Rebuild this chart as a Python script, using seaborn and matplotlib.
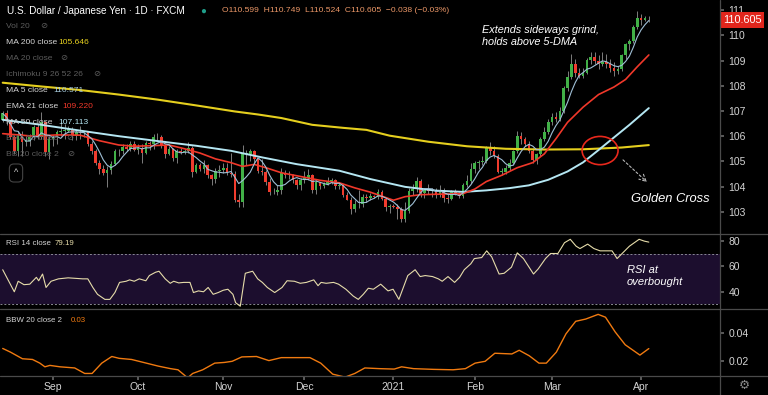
import numpy as np
import pandas as pd
import seaborn as sns
import matplotlib.pyplot as plt
from matplotlib.patches import Ellipse
from matplotlib.lines import Line2D
import matplotlib.transforms as mtrans

# USD/JPY daily candles, 13 Aug 2020 - 5 Apr 2021
opens = [
    106.65, 106.90, 106.60, 105.95, 105.40, 106.10, 105.78, 105.80, 105.95, 106.35, 105.98, 106.58, 105.38,
    105.88, 105.95, 106.15, 106.20, 106.22, 106.28, 106.00, 106.15, 106.12, 106.15, 105.70, 105.40, 104.95, 104.70, 104.55, 104.65, 104.90, 105.40, 105.40, 105.58, 105.50, 105.68,
    105.45, 105.52, 105.32, 105.72, 105.68, 105.95, 105.95, 105.60, 105.30, 105.50, 105.12, 105.40, 105.38, 105.42, 105.52, 104.58, 104.85, 104.70, 104.85, 104.45, 104.30, 104.60,
    104.65, 104.72, 104.52, 104.50, 103.48, 103.38, 105.30, 105.30, 105.42, 105.08, 104.62, 104.58, 104.18, 103.80, 103.78, 103.85, 104.55, 104.45, 104.45, 104.25, 104.08,
    104.28, 104.35, 104.45, 103.85, 104.18, 104.02, 104.12, 104.22, 104.25, 104.02, 104.05, 103.65, 103.48, 103.12, 103.30, 103.30, 103.60, 103.55, 103.62, 103.60, 103.80, 103.52, 103.20,
    103.22, 103.20, 103.12, 102.70, 103.05, 103.82, 103.92, 104.22, 103.75, 103.88, 103.82, 103.88, 103.68, 103.88, 103.55, 103.50, 103.80, 103.75, 103.62, 104.08, 104.22,
    104.68, 104.92, 104.98, 105.02, 105.55, 105.40, 105.22, 104.58, 104.58, 104.75, 104.95, 105.40, 106.00, 105.88, 105.68, 105.42, 105.05, 105.28, 105.90, 106.18,
    106.58, 106.75, 106.70, 107.00, 107.92, 108.35, 108.88, 108.50, 108.38, 108.50, 109.02, 109.12, 108.98, 108.85, 108.95, 108.88, 108.70, 108.58, 108.68, 109.20, 109.65, 109.78, 110.32,
    110.70, 110.62, 110.599,
]
highs = [
    107.00, 107.05, 106.65, 106.05, 106.20, 106.20, 106.00, 106.10, 106.45, 106.50, 106.95, 106.60, 106.00,
    106.05, 106.25, 106.55, 106.50, 106.40, 106.38, 106.25, 106.40, 106.20, 106.20, 105.80, 105.50, 105.05, 104.85, 104.80, 105.00, 105.50, 105.50, 105.70, 105.70, 105.80, 105.80,
    105.70, 105.70, 105.80, 105.80, 106.10, 106.12, 106.05, 105.70, 105.60, 105.55, 105.50, 105.55, 105.50, 105.75, 105.60, 104.95, 104.95, 105.05, 104.90, 104.50, 104.75, 104.85,
    104.95, 104.95, 105.35, 104.60, 103.70, 105.65, 105.45, 105.50, 105.45, 105.15, 105.10, 104.65, 104.35, 103.95, 104.05, 104.75, 104.65, 104.60, 104.50, 104.30, 104.35,
    104.60, 104.70, 104.50, 104.25, 104.20, 104.20, 104.40, 104.35, 104.30, 104.20, 104.10, 103.80, 103.60, 103.45, 103.85, 103.70, 103.70, 103.75, 103.65, 103.90, 103.85, 103.60, 103.30,
    103.30, 103.30, 103.20, 103.40, 103.95, 104.10, 104.40, 104.30, 103.95, 104.10, 103.95, 103.95, 104.05, 103.95, 103.70, 103.85, 103.90, 103.80, 104.15, 104.45, 104.95,
    105.00, 105.05, 105.20, 105.60, 105.75, 105.60, 105.30, 104.75, 104.85, 105.10, 105.45, 106.20, 106.15, 105.95, 105.80, 105.55, 105.35, 105.95, 106.35, 106.70,
    106.90, 106.95, 107.15, 108.00, 108.60, 109.25, 109.05, 108.70, 108.70, 109.10, 109.35, 109.35, 109.20, 109.35, 109.25, 109.05, 108.95, 108.80, 109.25, 109.70, 109.85, 110.40, 110.95,
    110.85, 110.75, 110.749,
]
lows = [
    106.55, 106.45, 105.90, 105.30, 105.20, 105.20, 105.60, 105.60, 105.85, 105.90, 105.90, 105.20, 105.10,
    105.60, 105.70, 106.00, 105.90, 106.15, 105.85, 105.85, 105.90, 105.95, 105.60, 105.30, 104.85, 104.50, 104.45, 104.00, 104.50, 104.85, 105.20, 105.30, 105.40, 105.40, 105.40,
    105.30, 104.95, 105.30, 105.45, 105.50, 105.85, 105.55, 105.15, 105.25, 105.00, 104.95, 105.30, 105.30, 105.35, 104.40, 104.55, 104.60, 104.55, 104.35, 104.05, 104.15, 104.40,
    104.55, 104.45, 104.40, 103.40, 103.20, 103.20, 104.85, 105.00, 104.90, 104.55, 104.45, 104.05, 103.65, 103.70, 103.65, 103.70, 104.35, 104.30, 104.15, 103.90, 103.85,
    104.15, 104.25, 103.75, 103.70, 103.90, 103.95, 104.05, 104.10, 103.90, 103.90, 103.60, 103.45, 102.90, 103.00, 103.15, 103.20, 103.40, 103.45, 103.55, 103.50, 103.45, 103.05, 102.95,
    103.15, 102.70, 102.60, 102.60, 102.95, 103.65, 103.80, 103.60, 103.55, 103.70, 103.60, 103.55, 103.60, 103.40, 103.35, 103.45, 103.65, 103.55, 103.55, 104.00, 104.15,
    104.55, 104.70, 104.85, 104.95, 105.25, 105.15, 104.55, 104.45, 104.50, 104.65, 104.90, 105.35, 105.70, 105.60, 105.35, 104.95, 104.90, 105.20, 105.80, 106.10,
    106.45, 106.55, 106.60, 106.90, 107.80, 108.25, 108.35, 108.30, 108.30, 108.45, 108.85, 108.85, 108.65, 108.80, 108.70, 108.55, 108.40, 108.45, 108.60, 109.05, 109.40, 109.70, 110.25,
    110.40, 110.55, 110.524,
]
closes = [
    106.90, 106.60, 105.95, 105.40, 106.10, 105.78, 105.80, 105.95, 106.35, 105.98, 106.58, 105.38, 105.88,
    105.95, 106.15, 106.20, 106.22, 106.28, 106.00, 106.15, 106.12, 106.15, 105.70, 105.40, 104.95, 104.70, 104.55, 104.65, 104.90, 105.40, 105.40, 105.58, 105.50, 105.68, 105.45,
    105.52, 105.32, 105.72, 105.68, 105.95, 105.95, 105.60, 105.30, 105.50, 105.12, 105.40, 105.38, 105.42, 105.52, 104.58, 104.85, 104.70, 104.85, 104.45, 104.30, 104.60, 104.65,
    104.72, 104.52, 104.50, 103.48, 103.38, 105.30, 105.30, 105.42, 105.08, 104.62, 104.58, 104.18, 103.80, 103.78, 103.85, 104.55, 104.45, 104.45, 104.25, 104.08, 104.28,
    104.35, 104.45, 103.85, 104.18, 104.02, 104.12, 104.22, 104.25, 104.02, 104.05, 103.65, 103.48, 103.12, 103.30, 103.30, 103.60, 103.55, 103.62, 103.60, 103.80, 103.52, 103.20, 103.22,
    103.20, 103.12, 102.70, 103.05, 103.82, 103.92, 104.22, 103.75, 103.88, 103.82, 103.88, 103.68, 103.88, 103.55, 103.50, 103.80, 103.75, 103.62, 104.08, 104.22, 104.68,
    104.92, 104.98, 105.02, 105.55, 105.40, 105.22, 104.58, 104.58, 104.75, 104.95, 105.40, 106.00, 105.88, 105.68, 105.42, 105.05, 105.28, 105.90, 106.18, 106.58,
    106.75, 106.70, 107.00, 107.92, 108.35, 108.88, 108.50, 108.38, 108.50, 109.02, 109.12, 108.98, 108.85, 108.95, 108.88, 108.70, 108.58, 108.68, 109.20, 109.65, 109.78, 110.32, 110.70,
    110.62, 110.68, 110.605,
]

# moving averages (bar index, value)
ma200_idx = [0, 10, 20, 30, 40, 50, 60, 66, 72, 80, 88, 94, 100, 110, 120, 130, 140, 150, 160, 167]
ma200_val = [108.12, 107.97, 107.83, 107.65, 107.45, 107.22, 106.98, 106.86, 106.72, 106.45, 106.33, 106.25,
             106.02, 105.78, 105.60, 105.50, 105.47, 105.48, 105.55, 105.646]
ma50_idx = [0, 10, 20, 30, 43, 50, 59, 67, 76, 87, 95, 104, 112, 119, 125, 131, 136, 141, 146, 150, 154, 158, 162, 167]
ma50_val = [106.65, 106.45, 106.22, 106.00, 105.75, 105.62, 105.42, 105.16, 104.89, 104.63, 104.30, 103.99,
            103.84, 103.79, 103.85, 103.94, 104.05, 104.27, 104.60, 104.96, 105.45, 105.95, 106.45, 107.113]
ema21_idx = [0, 8, 14, 20, 25, 30, 34, 38, 43, 47, 51, 55, 59, 62, 65, 68, 72, 77, 82, 87, 91, 95, 101, 104,
             108, 113, 119, 122, 125, 129, 133, 137, 140, 143, 146, 150, 154, 158, 161, 164, 167]
ema21_val = [106.10, 106.00, 106.05, 106.04, 105.82, 105.65, 105.60, 105.62, 105.65, 105.50, 105.33, 105.10,
             104.95, 104.80, 104.88, 104.75, 104.55, 104.40, 104.25, 104.15, 103.95, 103.78, 103.46, 103.60,
             103.68, 103.70, 103.72, 103.90, 104.20, 104.45, 104.75, 104.95, 105.30, 105.90, 106.55, 107.15,
             107.65, 107.95, 108.25, 108.75, 109.22]

rsi_idx = [0, 3, 4, 5.5, 7, 8.7, 9.3, 10.3, 11.2, 12.5, 14.4, 16.9, 20.7, 22, 23.3, 24.5, 26.4, 27.7, 29, 30.2,
           31.9, 32.8, 34, 35.3, 37, 37.9, 39.5, 40.4, 42, 43.3, 44.2, 45.5, 46.8, 48.4, 49.3, 50.6, 51.9, 53.1,
           54.4, 55.7, 57, 58.2, 59.5, 60.2, 61.4, 62.7, 64.6, 65.9, 67.1, 68.4, 70.3, 72.2, 73.5, 75.4, 76.9,
           78.5, 80.4, 81.5, 82.3, 83.6, 85.5, 86.8, 88.7, 90.6, 91.9, 93.2, 94.5, 95.8, 97.7, 99.6, 100.9,
           102.4, 104.7, 106.6, 107.9, 109.2, 111.1, 112.6, 113.6, 115.1, 116.8, 118.1, 119.3, 121, 121.9,
           123.8, 125.1, 126.4, 128.3, 129.6, 131.5, 133, 134.6, 137.2, 138.4, 140.3, 141.6, 143.5, 145.2,
           146.7, 148.2, 149.2, 151.2, 152.8, 154.4, 157.5, 158.8, 160.1, 162, 164.5, 165.8, 167]
rsi_val = [57.4, 40, 48.3, 45.6, 46, 51.4, 48.7, 54, 43.4, 48.3, 50.2, 51, 50.2, 50.2, 43.4, 38, 34, 34, 39.4,
           47.4, 48.3, 49.4, 48.3, 50.2, 48.7, 52.8, 55.4, 56.2, 50.2, 46.7, 48.3, 47, 47.4, 47.4, 39.4, 40.7,
           40, 43.4, 38, 39.4, 41.2, 42, 38, 31.4, 28.6, 54.6, 56.2, 50.2, 47.4, 43.4, 39.4, 43.4, 48.7, 48.3,
           46.7, 47.4, 49.4, 44.8, 47.4, 46.7, 47.4, 46, 42, 36.6, 34, 38, 42.8, 42, 46, 40.7, 42, 34, 52.8,
           57.4, 52, 52.8, 52, 50.2, 48.3, 52, 47.4, 51.4, 57.4, 62.1, 66.2, 67, 72.3, 67.5, 54, 54.6, 59.4,
           70.7, 66.2, 54, 58, 66.2, 70.2, 70.2, 78.7, 81.4, 76, 74.1, 77.6, 74.1, 72.3, 72.3, 66.2, 70.2,
           76, 81.4, 80, 79.19]

bbw_idx = [0, 2, 5.1, 7.7, 9.6, 10.9, 12.2, 14.8, 18.6, 21.2, 23.1, 25.6, 28.2, 30.1, 33.3, 36.4, 40.2, 43.4,
           45.3, 47.8, 49.1, 51.7, 54.8, 57.3, 59.3, 61.8, 65.6, 68.8, 72, 75.8, 79.4, 82.2, 85.3, 88.5, 91,
           93.6, 97.4, 101.2, 103.1, 106.2, 111.3, 116.4, 119.6, 122.1, 124.7, 127.2, 131.6, 133.5, 136.1,
           138.6, 140.5, 143.1, 145.6, 148.1, 150.7, 153.9, 155.8, 158.3, 160.9, 164.7, 167]
bbw_val = [0.0291, 0.0265, 0.0218, 0.0213, 0.0187, 0.0161, 0.0171, 0.0161, 0.0153, 0.0114, 0.0114, 0.0187,
           0.0234, 0.0221, 0.0213, 0.0192, 0.0166, 0.0148, 0.0140, 0.0083, 0.0114, 0.0140, 0.0187, 0.0192,
           0.0200, 0.0231, 0.0234, 0.0205, 0.0226, 0.0226, 0.0226, 0.0187, 0.0109, 0.0088, 0.0114, 0.0153,
           0.0148, 0.0145, 0.0161, 0.0148, 0.0143, 0.0140, 0.0148, 0.0187, 0.0200, 0.0257, 0.0252, 0.0278,
           0.0239, 0.0187, 0.0187, 0.0265, 0.0395, 0.0483, 0.0499, 0.0532, 0.0512, 0.0408, 0.0317, 0.0244,
           0.0290]

month_labels = ["Sep", "Oct", "Nov", "Dec", "2021", "Feb", "Mar", "Apr"]

dates = pd.bdate_range("2020-08-13", "2021-04-05")
df = pd.DataFrame({"open": opens, "high": highs, "low": lows, "close": closes}, index=dates)
df["i"] = np.arange(len(df))
df["ma5"] = df["close"].rolling(5, min_periods=1).mean()
month_start = df.groupby(df.index.to_period("M"))["i"].min().values[1:]

BG = "#000000"
TXT = "#d4d4d4"
DIM = "#5c5c5c"
GREEN = "#41b047"
RED = "#f03c2e"
W, H = 768, 395

sns.set_theme(style="dark")
plt.rcParams["font.family"] = ["Liberation Sans", "DejaVu Sans"]

fig = plt.figure(figsize=(7.68, 3.95), dpi=100, facecolor=BG)


def box(x0, y0, x1, y1):
    return [x0 / W, 1 - y1 / H, (x1 - x0) / W, (y1 - y0) / H]


ax = fig.add_axes(box(0, 0, 720, 233))
ax_rsi = fig.add_axes(box(0, 235, 720, 308), sharex=ax)
ax_bbw = fig.add_axes(box(0, 310, 720, 376), sharex=ax)

for a in (ax, ax_rsi, ax_bbw):
    a.set_facecolor(BG)
    a.grid(False)
    for s in a.spines.values():
        s.set_visible(False)
    a.yaxis.tick_right()
    a.tick_params(axis="y", colors=TXT, labelsize=7.5, length=3, pad=3, color="#666666", right=True, left=False)

# candles
up = df[df.close >= df.open]
dn = df[df.close < df.open]
ax.vlines(df.i, df.low, df.high, color="#7d7d7d", lw=0.7, zorder=2)
ax.bar(up.i, np.maximum(up.close - up.open, 0.025), bottom=up.open, width=0.68, color=GREEN, lw=0, zorder=3)
ax.bar(dn.i, np.maximum(dn.open - dn.close, 0.025), bottom=dn.close, width=0.68, color=RED, lw=0, zorder=3)

sns.lineplot(x=ma200_idx, y=ma200_val, ax=ax, color="#e5cf1e", lw=1.5, zorder=4)
sns.lineplot(x=ma50_idx, y=ma50_val, ax=ax, color="#b4e6f2", lw=1.4, zorder=4)
sns.lineplot(x=ema21_idx, y=ema21_val, ax=ax, color="#f0382a", lw=1.2, zorder=4)
sns.lineplot(x=df.i, y=df.ma5, ax=ax, color="#9fbfd6", lw=0.8, zorder=5)

ax.set_xlim(-0.7, 185.4)
ax.set_ylim(102.16, 111.4)
ax.set_yticks(range(103, 112))
ax.set_yticklabels([str(v) for v in range(103, 112)])
ax.tick_params(axis="x", bottom=False, labelbottom=False)
ax.set_xlabel("")
ax.set_ylabel("")

# golden cross marker
ax.add_patch(Ellipse((154.4, 105.43), width=9.3, height=1.12, fill=False, ec="#e8281c", lw=1.2, zorder=6))
ax.annotate("", xy=(649, H - 184), xycoords="figure pixels", xytext=(621, H - 158), textcoords="figure pixels",
            arrowprops=dict(arrowstyle="->", ls=(0, (2, 2)), color="#b8b8b8", lw=0.8))

# last price tag
tr = mtrans.blended_transform_factory(ax.transAxes, ax.transData)
ax.text(1.004, 110.605, "110.605", transform=tr, ha="left", va="center", color="white", fontsize=7.8,
        bbox=dict(boxstyle="square,pad=0.25", fc="#e0251c", ec="none"), zorder=10, clip_on=False)

# RSI
ax_rsi.axhspan(30, 70, color="#1c0e2e", zorder=0, lw=0)
for lvl in (70, 30):
    ax_rsi.axhline(lvl, color="#8a8a95", lw=0.7, ls=(0, (2, 2)))
sns.lineplot(x=rsi_idx, y=rsi_val, ax=ax_rsi, color="#e6dcaa", lw=0.8)
ax_rsi.set_ylim(27.2, 84.8)
ax_rsi.set_yticks([40, 60, 80])
ax_rsi.set_yticklabels(["40", "60", "80"])
ax_rsi.tick_params(axis="x", bottom=False, labelbottom=False)
ax_rsi.set_xlabel("")
ax_rsi.set_ylabel("")

# BBW
sns.lineplot(x=bbw_idx, y=bbw_val, ax=ax_bbw, color="#f07a10", lw=1.0)
ax_bbw.set_ylim(0.0096, 0.0563)
ax_bbw.set_yticks([0.02, 0.04])
ax_bbw.set_yticklabels(["0.02", "0.04"])
ax_bbw.set_xticks(month_start)
ax_bbw.set_xticklabels(month_labels)
ax_bbw.tick_params(axis="x", colors=TXT, labelsize=7.5, length=3, pad=1, color="#666666", bottom=True)
ax_bbw.set_xlabel("")
ax_bbw.set_ylabel("")
ax_bbw.set_xlim(-0.7, 185.4)

# panel separators
for y in (234, 309, 376):
    fig.add_artist(Line2D([0, 1], [1 - y / H, 1 - y / H], color="#4a4a4a", lw=0.9))
fig.add_artist(Line2D([720 / W, 720 / W], [0, 1], color="#4a4a4a", lw=0.9))


def ftext(x, y, s, **kw):
    fig.text(x / W, 1 - y / H, s, va="center", ha="left", **kw)


# header and legend
ftext(7, 11, "U.S. Dollar / Japanese Yen · 1D · FXCM", color="white", fontsize=7.2)
ftext(200, 11, "●", color="#1f9e8a", fontsize=7)
ftext(222, 11, "O110.599  H110.749  L110.524  C110.605  −0.038 (−0.03%)", color="#ec9868", fontsize=6.1)

LEG = 6.1
ftext(6, 26, "Vol 20", color=DIM, fontsize=LEG)
ftext(40, 26, "⊘", color=DIM, fontsize=LEG)
ftext(6, 42, "MA 200 close", color=TXT, fontsize=LEG)
ftext(58, 42, "105.646", color="#e5cf1e", fontsize=LEG)
ftext(6, 59, "MA 20 close", color=DIM, fontsize=LEG)
ftext(60, 59, "⊘", color=DIM, fontsize=LEG)
ftext(6, 75, "Ichimoku 9 26 52 26", color=DIM, fontsize=LEG)
ftext(93, 75, "⊘", color=DIM, fontsize=LEG)
ftext(6, 91, "MA 5 close", color=TXT, fontsize=LEG)
ftext(53, 91, "110.571", color="#a9cde0", fontsize=LEG)
ftext(6, 107, "EMA 21 close", color=TXT, fontsize=LEG)
ftext(62, 107, "109.220", color="#f0382a", fontsize=LEG)
ftext(6, 123, "MA 50 close", color=TXT, fontsize=LEG)
ftext(58, 123, "107.113", color="#b4e6f2", fontsize=LEG)
ftext(6, 139, "EMA 50 close", color=DIM, fontsize=LEG)
ftext(66, 139, "⊘", color=DIM, fontsize=LEG)
ftext(6, 155, "BB 20 close 2", color=DIM, fontsize=LEG)
ftext(67, 155, "⊘", color=DIM, fontsize=LEG)
fig.text(16 / W, 1 - 173 / H, "^", color=TXT, fontsize=6.5, ha="center", va="center",
         bbox=dict(boxstyle="round,pad=0.5", fc="none", ec="#444444", lw=0.8))

ftext(6, 244, "RSI 14 close", color=TXT, fontsize=5.7)
ftext(55, 244, "79.19", color="#e6dcaa", fontsize=5.7)
ftext(6, 321, "BBW 20 close 2", color=TXT, fontsize=5.7)
ftext(71, 321, "0.03", color="#f07a10", fontsize=5.7)

# annotations
ftext(482, 30, "Extends sideways grind,", color="white", fontsize=7.8, style="italic")
ftext(482, 42, "holds above 5-DMA", color="white", fontsize=7.8, style="italic")
ftext(631, 199, "Golden Cross", color="white", fontsize=9.3, style="italic")
ftext(627, 270, "RSI at", color="white", fontsize=8, style="italic")
ftext(627, 282, "overbought", color="white", fontsize=8, style="italic")
fig.text(744 / W, 1 - 386 / H, "⚙", color="#8a8a8a", fontsize=9, ha="center", va="center")

fig.savefig("out.png", dpi=100, facecolor=BG)
